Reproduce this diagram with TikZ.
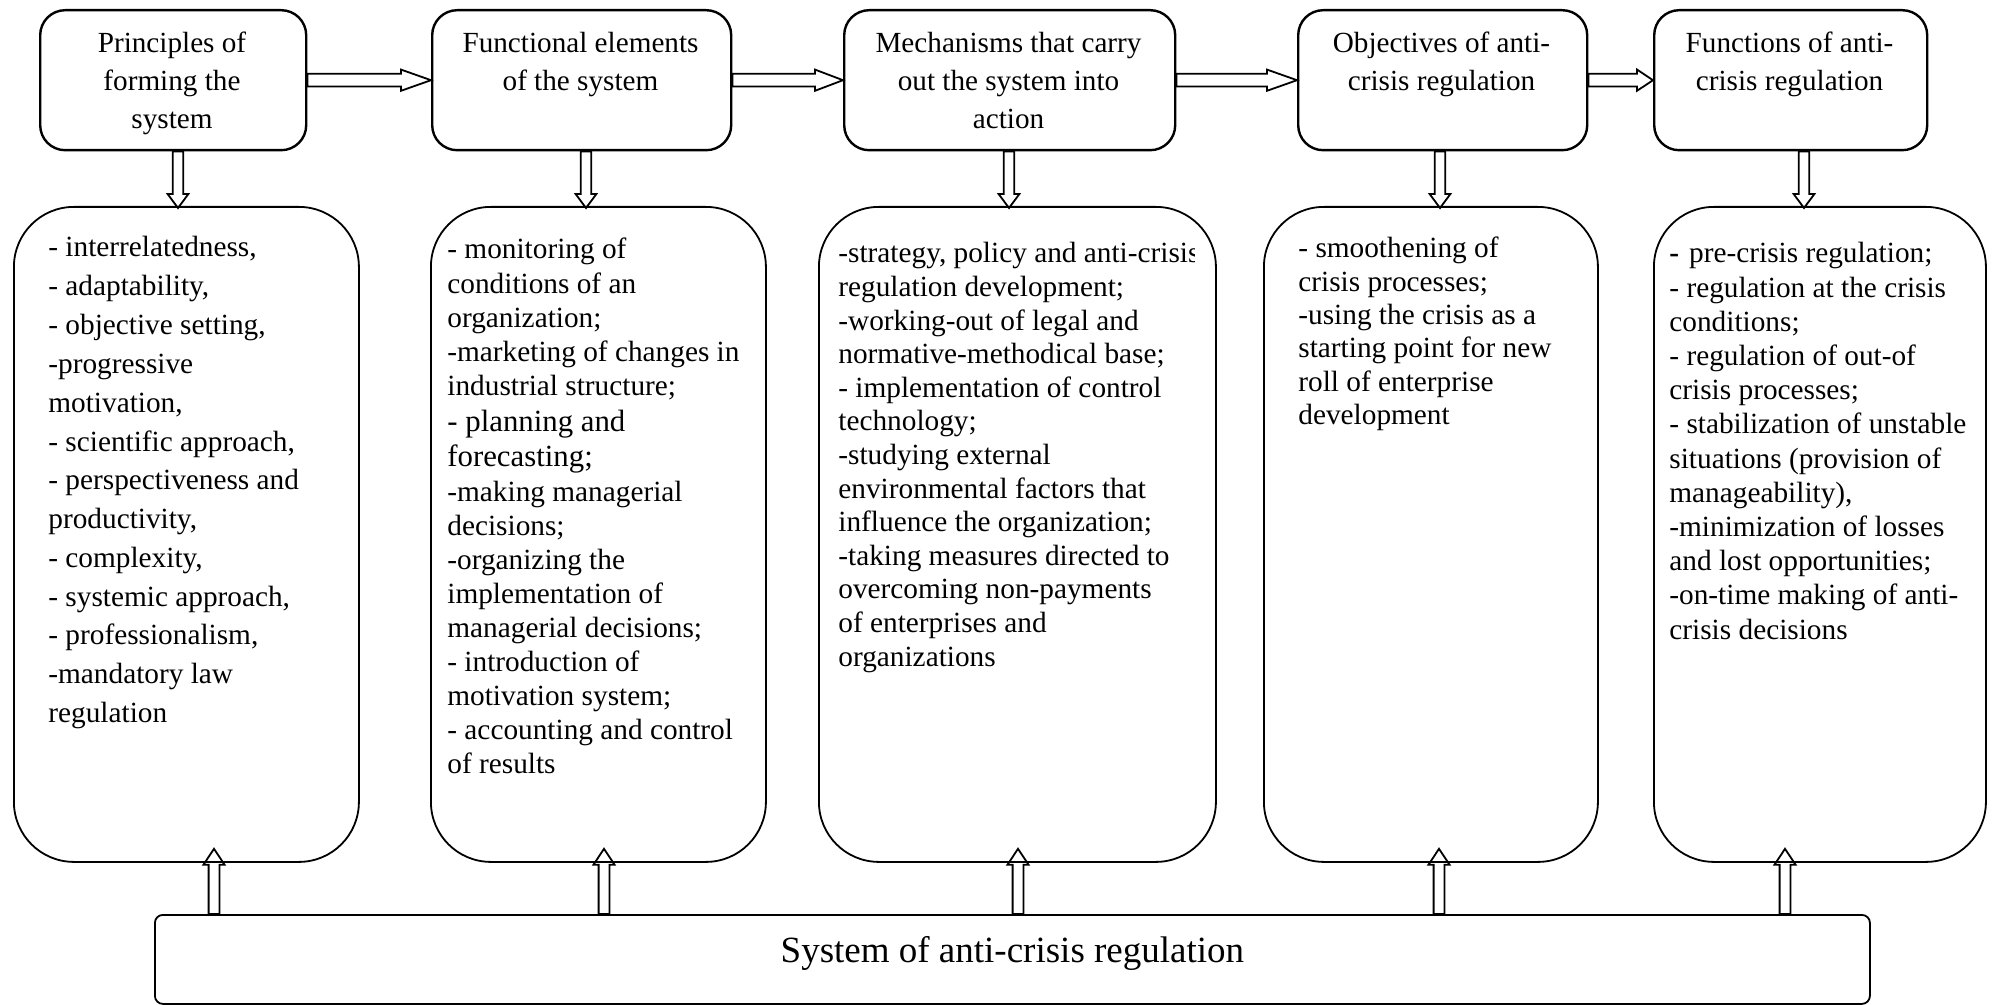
\documentclass[tikz,border=0pt]{standalone}
\usepackage{fontspec}
\setmainfont{Liberation Serif}
\usetikzlibrary{calc}
\tikzset{
  topbox/.style={draw, line width=1.2pt, rounded corners=12.5pt, anchor=north west, inner sep=0pt, minimum height=70pt},
  bigbox/.style={draw, line width=0.9pt, rounded corners=30pt, anchor=north west, inner sep=0pt, minimum height=327.5pt},
  sysbox/.style={draw, line width=0.9pt, rounded corners=4pt, anchor=north west, inner sep=0pt,
    minimum width=857.5pt, minimum height=44.5pt, font=\fontsize{18.5pt}{22pt}\selectfont,
    text height=10pt, text depth=6.5pt},
  blk/.style={draw, line width=0.9pt, line join=miter},
  bodytxt/.style={inner sep=0pt, anchor=base west},
  headtxt/.style={inner sep=0pt, anchor=base},
}
% block arrows: start point, tip point
\newcommand{\dblk}[2]{\draw[blk] let \p1=#1, \p2=#2 in
  (\x1-2.6pt,\y1) -- (\x1-2.6pt,\y2+7pt) -- (\x1-5.2pt,\y2+7pt) -- (\x1,\y2) --
  (\x1+5.2pt,\y2+7pt) -- (\x1+2.6pt,\y2+7pt) -- (\x1+2.6pt,\y1) -- cycle;}
\newcommand{\ublk}[2]{\draw[blk] let \p1=#1, \p2=#2 in
  (\x1-2.7pt,\y1) -- (\x1-2.7pt,\y2-8pt) -- (\x1-5.3pt,\y2-8pt) -- (\x1,\y2) --
  (\x1+5.3pt,\y2-8pt) -- (\x1+2.7pt,\y2-8pt) -- (\x1+2.7pt,\y1) -- cycle;}
\newcommand{\hblk}[3]{\draw[blk] let \p1=#1, \p2=#2 in
  (\x1,\y1-3.2pt) -- (\x2-#3,\y1-3.2pt) -- (\x2-#3,\y1-5.3pt) -- (\x2,\y1) --
  (\x2-#3,\y1+5.3pt) -- (\x2-#3,\y1+3.2pt) -- (\x1,\y1+3.2pt) -- cycle;}

\begin{document}
\begin{tikzpicture}[x=0.5pt, y=-0.5pt]
\useasboundingbox (0,0) rectangle (1995,1005);

% ---------- top boxes ----------
\node[topbox, minimum width=133pt]   (t1) at (39,9) {};
\node[topbox, minimum width=149.5pt] (t2) at (431,9) {};
\node[topbox, minimum width=165.5pt] (t3) at (843,9) {};
\node[topbox, minimum width=144.5pt] (t4) at (1297,9) {};
\node[topbox, minimum width=136.5pt] (t5) at (1653,9) {};

\node[headtxt] (t1x) at (172,53) {\begin{minipage}[t]{133pt}\centering\fontsize{14.6pt}{19pt}\selectfont
Principles of\\ forming the\\ system\end{minipage}};
\node[headtxt] (t2x) at (580.5,53) {\begin{minipage}[t]{149.5pt}\centering\fontsize{14.6pt}{19pt}\selectfont
Functional elements\\ of the system\end{minipage}};
\node[headtxt] (t3x) at (1008.5,53) {\begin{minipage}[t]{165.5pt}\centering\fontsize{14.6pt}{19pt}\selectfont
Mechanisms that carry\\ out the system into\\ action\end{minipage}};
\node[headtxt] (t4x) at (1441.5,53) {\begin{minipage}[t]{144.5pt}\centering\fontsize{14.6pt}{19pt}\selectfont
Objectives of anti-\\ crisis regulation\end{minipage}};
\node[headtxt] (t5x) at (1789.5,53) {\begin{minipage}[t]{136.5pt}\centering\fontsize{14.6pt}{19pt}\selectfont
Functions of anti-\\ crisis regulation\end{minipage}};

% ---------- bottom boxes ----------
\node[bigbox, minimum width=172.5pt] (b1) at (13,206) {};
\node[bigbox, minimum width=167.5pt] (b2) at (430,206) {};
\node[bigbox, minimum width=198.5pt] (b3) at (818,206) {};
\node[bigbox, minimum width=167pt]   (b4) at (1263,206) {};
\node[bigbox, minimum width=166pt]   (b5) at (1653,206) {};

\node[bodytxt] (b1x) at (48,257) {\begin{minipage}[t]{160pt}\raggedright\fontsize{14.65pt}{19.4pt}\selectfont
- interrelatedness,\\
- adaptability,\\
- objective setting,\\
-progressive\\
motivation,\\
- scientific approach,\\
- perspectiveness and\\
productivity,\\
- complexity,\\
- systemic approach,\\
- professionalism,\\
-mandatory law\\
regulation\end{minipage}};

\node[bodytxt] (b2x) at (447,259) {\begin{minipage}[t]{160pt}\raggedright\fontsize{14.65pt}{17.05pt}\selectfont
- monitoring of\\
conditions of an\\
organization;\\
-marketing of changes in\\
industrial structure;\\[0.85pt]
{\fontsize{15.4pt}{17.05pt}\selectfont - planning and}\\[0.85pt]
{\fontsize{15.4pt}{17.05pt}\selectfont forecasting;}\\
-making managerial\\
decisions;\\
-organizing the\\
implementation of\\
managerial decisions;\\
- introduction of\\
motivation system;\\
- accounting and control\\
of results\end{minipage}};

\begin{scope}
\clip (818,206) rectangle (1194,861);
\node[bodytxt] (b3x) at (838,263) {\begin{minipage}[t]{200pt}\raggedright\fontsize{14.65pt}{16.8pt}\selectfont
-strategy, policy and anti-crisis\\
regulation development;\\
-working-out of legal and\\
normative-methodical base;\\
- implementation of control\\
technology;\\
-studying external\\
environmental factors that\\
influence the organization;\\
-taking measures directed to\\
overcoming non-payments\\
of enterprises and\\
organizations\end{minipage}};
\end{scope}

\node[bodytxt] (b4x) at (1298,258) {\begin{minipage}[t]{150pt}\raggedright\fontsize{14.65pt}{16.65pt}\selectfont
- smoothening of\\
crisis processes;\\
-using the crisis as a\\
starting point for new\\
roll of enterprise\\
development\end{minipage}};

\node[bodytxt] (b5x) at (1669,263) {\begin{minipage}[t]{160pt}\raggedright\fontsize{14.65pt}{17.1pt}\selectfont
{\bfseries -}\hspace{5pt}pre-crisis regulation;\\
- regulation at the crisis\\
conditions;\\
- regulation of out-of\\
crisis processes;\\
- stabilization of unstable\\
situations (provision of\\
manageability),\\
-minimization of losses\\
and lost opportunities;\\
-on-time making of anti-\\
crisis decisions\end{minipage}};

% ---------- system box ----------
\node[sysbox] (sys) at (154,914) {System of anti-crisis regulation};

% ---------- arrow columns ----------
\coordinate (d1) at (178,0);
\coordinate (d2) at (586,0);
\coordinate (d3) at (1009,0);
\coordinate (d4) at (1440,0);
\coordinate (d5) at (1804,0);
\coordinate (u1) at (214,0);
\coordinate (u2) at (604,0);
\coordinate (u3) at (1018,0);
\coordinate (u4) at (1439,0);
\coordinate (u5) at (1785,0);

% horizontal arrows
\hblk{(t1.east)}{(t2.west)}{15pt}
\hblk{(t2.east)}{(t3.west)}{14pt}
\hblk{(t3.east)}{(t4.west)}{15pt}
\hblk{(t4.east)}{(t5.west)}{8pt}

% down arrows
\dblk{(d1 |- t1.south)}{($(d1 |- b1.north)+(0,2)$)}
\dblk{(d2 |- t2.south)}{($(d2 |- b2.north)+(0,2)$)}
\dblk{(d3 |- t3.south)}{($(d3 |- b3.north)+(0,2)$)}
\dblk{(d4 |- t4.south)}{($(d4 |- b4.north)+(0,2)$)}
\dblk{(d5 |- t5.south)}{($(d5 |- b5.north)+(0,2)$)}

% up arrows
\ublk{(u1 |- sys.north)}{($(u1 |- b1.south)+(0,-14)$)}
\ublk{(u2 |- sys.north)}{($(u2 |- b2.south)+(0,-14)$)}
\ublk{(u3 |- sys.north)}{($(u3 |- b3.south)+(0,-14)$)}
\ublk{(u4 |- sys.north)}{($(u4 |- b4.south)+(0,-14)$)}
\ublk{(u5 |- sys.north)}{($(u5 |- b5.south)+(0,-14)$)}
\end{tikzpicture}
\end{document}
